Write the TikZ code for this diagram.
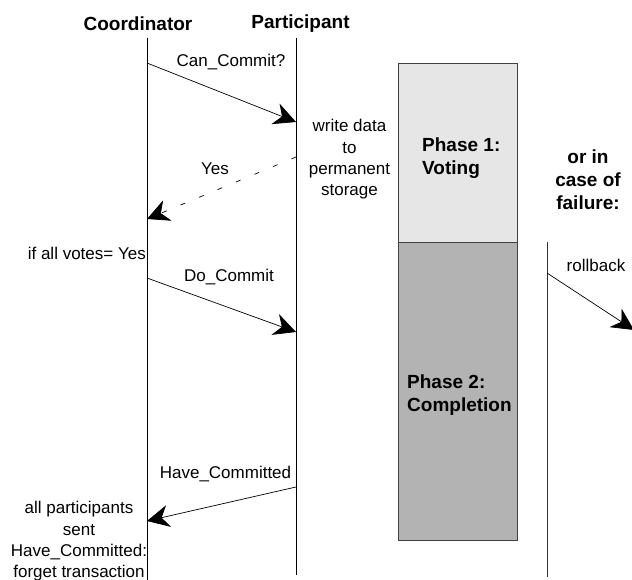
\documentclass[tikz,border=0pt]{standalone}
\usepackage{fontspec}
\setmainfont{Liberation Sans}
\usetikzlibrary{arrows.meta}
\definecolor{lightph}{HTML}{E6E6E6}
\definecolor{darkph}{HTML}{B3B3B3}
\definecolor{boxline}{HTML}{404040}
\tikzset{
  hdr/.style={font=\fontsize{19}{23}\selectfont\bfseries, inner sep=0pt, anchor=base},
  lbl/.style={font=\fontsize{17}{21}\selectfont, inner sep=0pt},
  blk/.style={font=\fontsize{17}{21.3}\selectfont, inner sep=0pt, align=center},
  bold/.style={font=\fontsize{19}{23}\selectfont\bfseries, inner sep=0pt},
  life/.style={draw=black, line width=0.8pt},
  msg/.style={draw=black, line width=0.7pt, -{Stealth[length=22pt, width=22pt, inset=7pt]}},
  phasebox/.style={draw=boxline, line width=1.2pt, anchor=north west, minimum width=119pt, inner sep=0pt}
}
\begin{document}
\begin{tikzpicture}[x=1pt, y=-1pt]
\useasboundingbox (0,0) rectangle (632,580);
% headers
\node[hdr] (coordT) at (138,31) {Coordinator};
\node[hdr] (partT) at (300.5,29) {Participant};
% lifelines
\coordinate (cTop) at (147,38);
\coordinate (cBot) at (147,580);
\coordinate (pTop) at (296,38);
\coordinate (pBot) at (296,575);
\coordinate (fTop) at (547,242);
\coordinate (fBot) at (547,577);
\draw[life] (cTop) -- (cBot);
\draw[life] (pTop) -- (pBot);
\draw[life, draw=black!80] (fTop) -- (fBot);
% phase boxes
\node[phasebox, fill=lightph, minimum height=179pt] (ph1) at (398,63) {};
\node[phasebox, fill=darkph, minimum height=298pt] (ph2) at (398,242) {};
\node[bold, align=left, anchor=west] (ph1t) at (422,158) {Phase 1:\\Voting};
\node[bold, align=left, anchor=west] (ph2t) at (407,395.5) {Phase 2:\\Completion};
\node[bold, align=center] (fail) at (588,180) {or in\\case of\\failure:};
% message endpoints
\coordinate (m1s) at (147,63);
\coordinate (m1e) at (296,122);
\coordinate (m2s) at (296,157);
\coordinate (m2e) at (147,219);
\coordinate (m3s) at (147,278);
\coordinate (m3e) at (296,332);
\coordinate (m4s) at (296,487);
\coordinate (m4e) at (147,521);
\coordinate (m5s) at (547,273);
\coordinate (m5e) at (634,330);
\draw[msg] (m1s) -- (m1e);
\draw[msg, dash pattern=on 5pt off 15pt] (m2s) -- (m2e);
\draw[msg] (m3s) -- (m3e);
\draw[msg] (m4s) -- (m4e);
\draw[msg] (m5s) -- (m5e);
% labels
\node[lbl] (l1) at (231,62) {Can\_Commit?};
\node[lbl] (l2) at (215,169) {Yes};
\node[lbl] (l3) at (229,277) {Do\_Commit};
\node[lbl] (l4) at (225.5,474) {Have\_Committed};
\node[lbl] (l5) at (596,265) {rollback};
\node[lbl, anchor=east] (votes) at (146,253) {if all votes= Yes};
\node[blk] (write) at (349.5,159.5) {write data\\to\\permanent\\storage};
\node[blk] (forget) at (79,541.5) {all participants\\sent\\Have\_Committed:\\forget transaction};
\end{tikzpicture}
\end{document}
